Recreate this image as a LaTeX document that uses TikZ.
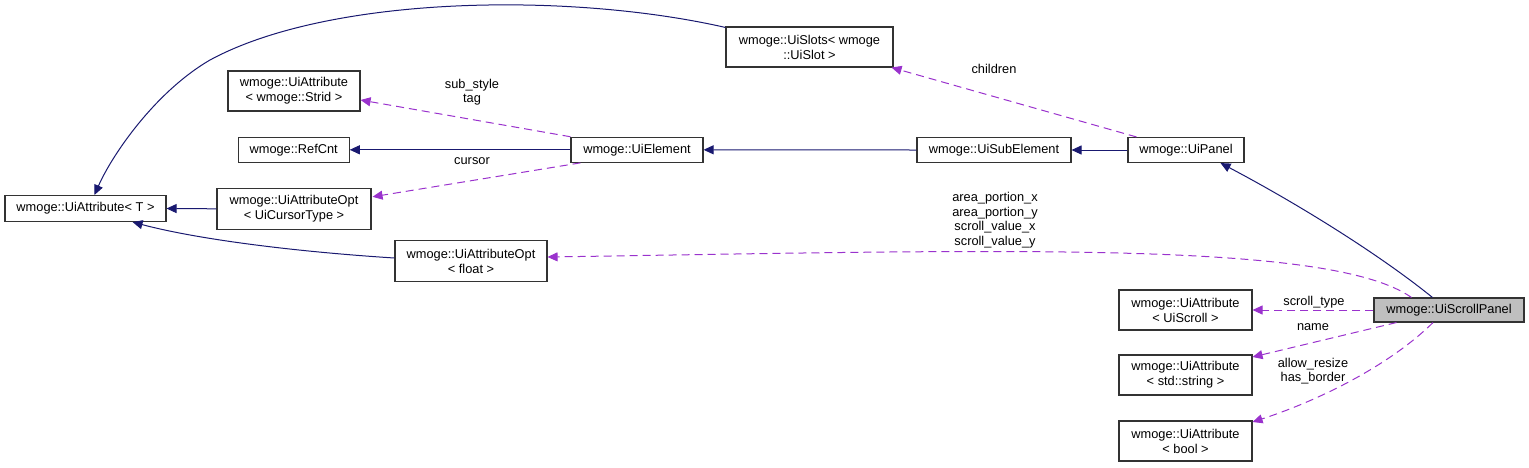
\documentclass[tikz,border=0pt]{standalone}
\usepackage{fontspec}
\setmainfont{Liberation Sans}
\usetikzlibrary{arrows.meta,calc}
\definecolor{navyedge}{HTML}{191970}
\definecolor{purpleedge}{HTML}{9A32CD}
\definecolor{boxgray}{HTML}{BFBFBF}
\begin{document}
\begin{tikzpicture}[x=1pt,y=-1pt,
  box/.style={draw=black!80, line width=1.1pt, align=center, inner sep=0pt, font=\fontsize{12.8}{15}\selectfont},
  lbl/.style={align=center, inner sep=0pt, font=\fontsize{12.8}{14.6}\selectfont},
  inh/.style={draw=navyedge, line width=1pt, -{Triangle[length=10pt,width=9pt]}},
  usee/.style={draw=purpleedge, line width=1pt, dash pattern=on 8pt off 5pt, -{Triangle[length=10pt,width=9pt]}}]
\useasboundingbox (0,0) rectangle (1529,467);
% nodes
\node[box, minimum width=161pt, minimum height=26pt] (attrT) at (85.5,208.5) {wmoge::UiAttribute< T >};
\node[box, minimum width=154pt, minimum height=41pt] (optCursor) at (294,208.8) {wmoge::UiAttributeOpt\\< UiCursorType >};
\node[box, minimum width=132pt, minimum height=40pt] (attrStrid) at (294,91) {wmoge::UiAttribute\\< wmoge::Strid >};
\node[box, minimum width=111pt, minimum height=25pt] (refcnt) at (293.7,149.8) {wmoge::RefCnt};
\node[box, minimum width=132pt, minimum height=25pt] (element) at (637,149.8) {wmoge::UiElement};
\node[box, minimum width=167pt, minimum height=40pt] (slots) at (809.5,47) {wmoge::UiSlots< wmoge\\::UiSlot >};
\node[box, minimum width=154pt, minimum height=25pt] (subelem) at (994,150) {wmoge::UiSubElement};
\node[box, minimum width=116pt, minimum height=25pt] (panel) at (1186,150) {wmoge::UiPanel};
\node[box, minimum width=152pt, minimum height=41pt] (optFloat) at (471,261) {wmoge::UiAttributeOpt\\< float >};
\node[box, fill=boxgray, minimum width=150pt, minimum height=24pt] (scroll) at (1449,310) {wmoge::UiScrollPanel};
\node[box, minimum width=133pt, minimum height=40pt] (attrScroll) at (1185.5,310) {wmoge::UiAttribute\\< UiScroll >};
\node[box, minimum width=133pt, minimum height=40pt] (attrString) at (1185.5,375) {wmoge::UiAttribute\\< std::string >};
\node[box, minimum width=133pt, minimum height=40pt] (attrBool) at (1185.5,441) {wmoge::UiAttribute\\< bool >};
% labels
\node[lbl] (lSub) at (472,92) {sub\_style\\tag};
\node[lbl] (lCursor) at (472,161) {cursor};
\node[lbl] (lChildren) at (994,69) {children};
\node[lbl] (lArea) at (995,220) {area\_portion\_x\\area\_portion\_y\\scroll\_value\_x\\scroll\_value\_y};
\node[lbl] (lScrollType) at (1314,302) {scroll\_type};
\node[lbl] (lName) at (1313,327) {name};
\node[lbl] (lAllow) at (1313,371) {allow\_resize\\has\_border};
% edges
\draw[inh] ($(slots.north west)+(0,1)$) .. controls (570,-8) and (330,-5) .. (210,60) .. controls (155,92) and (112,155) .. ($(attrT.north)+(9,0)$);
\draw[inh] (optCursor.west) -- (attrT.east);
\draw[inh] ($(optFloat.west)+(0,-3)$) .. controls (300,252) and (200,240) .. ($(attrT.south east)+(-34,0)$);
\draw[usee] (element.north west) -- ($(attrStrid.east)+(0,9)$);
\draw[inh] (element.west) -- (refcnt.east);
\draw[usee] ($(element.south west)+(10,0)$) -- ($(optCursor.east)+(1,-12)$);
\draw[inh] (subelem.west) -- (element.east);
\draw[inh] (panel.west) -- (subelem.east);
\draw[usee] ($(panel.north west)+(9,0)$) -- ($(slots.south east)+(-2,0)$);
\draw[inh] ($(scroll.north west)+(59,0)$) .. controls (1380,255) and (1300,205) .. ($(panel.south east)+(-24,0)$);
\draw[usee] ($(scroll.north west)+(38,0)$) .. controls (1330,240) and (1000,250) .. ($(optFloat.east)+(0,-4)$);
\draw[usee] (scroll.west) -- (attrScroll.east);
\draw[usee] ($(scroll.south west)+(23,0)$) -- ($(attrString.east)+(0,-18)$);
\draw[usee] ($(scroll.south)+(-16,0)$) .. controls (1390,365) and (1320,400) .. ($(attrBool.east)+(0,-19)$);
\end{tikzpicture}
\end{document}
